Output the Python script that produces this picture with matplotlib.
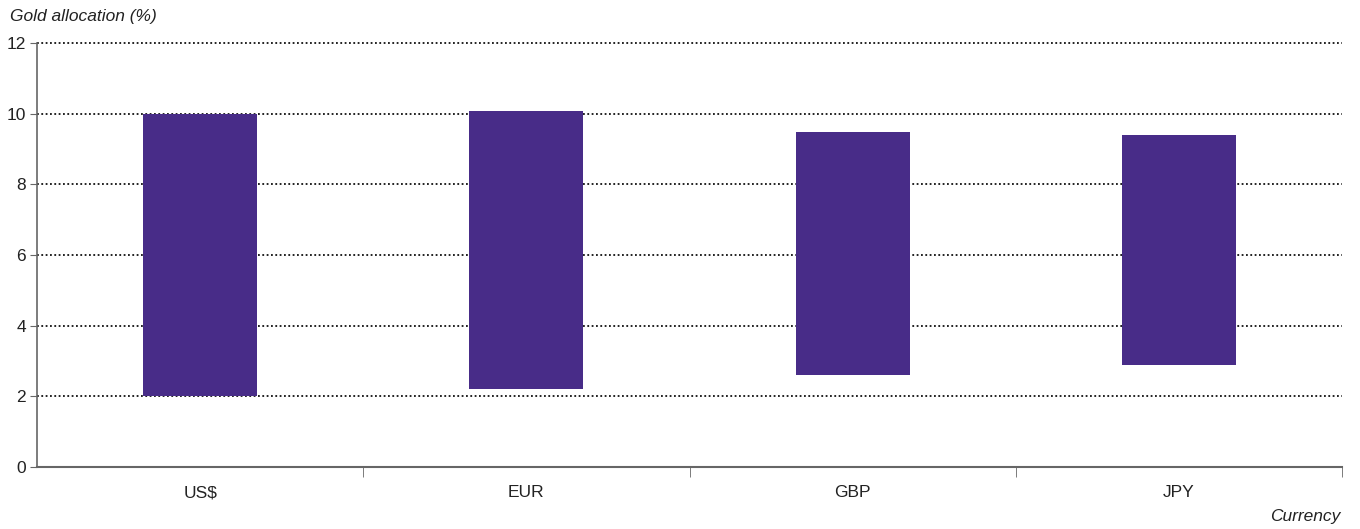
import matplotlib.pyplot as plt
import numpy as np

plt.rcParams["font.family"] = ["Liberation Sans", "DejaVu Sans"]

currencies = ["US$", "EUR", "GBP", "JPY"]
low = [2.0, 2.2, 2.6, 2.9]
high = [10.0, 10.07, 9.47, 9.4]

bar_color = "#482C88"
axis_color = "#666666"

fig = plt.figure(figsize=(13.6, 5.29), dpi=100)
ax = fig.add_axes([37 / 1360, 1 - 467 / 529, (1342 - 37) / 1360, (467 - 43) / 529])

x = np.arange(len(currencies))
heights = [h - l for h, l in zip(high, low)]
ax.bar(x, heights, bottom=low, width=0.35, color=bar_color, zorder=3)

ax.set_xlim(-0.5, len(currencies) - 0.5)
ax.set_ylim(0, 12)
ax.set_yticks(range(0, 13, 2))
ax.set_xticks(x)
ax.set_xticklabels(currencies)
ax.set_xticks(np.arange(0.5, len(currencies), 1), minor=True)
ax.tick_params(axis="x", which="major", length=0, pad=13, labelsize=12.5, colors="#222222")
ax.tick_params(axis="x", which="minor", length=7, direction="out", color=axis_color)
ax.tick_params(axis="y", length=5, direction="out", color=axis_color, labelsize=12.5,
               labelcolor="#222222", pad=3)

for s in ["top", "right"]:
    ax.spines[s].set_visible(False)
ax.spines["left"].set_color(axis_color)
ax.spines["bottom"].set_color(axis_color)
ax.spines["left"].set_linewidth(1.2)
ax.spines["bottom"].set_linewidth(1.5)

for yv in range(2, 13, 2):
    ax.axhline(yv, color="#111111", linestyle=(0, (1, 1.4)), linewidth=1.3, zorder=2,
               clip_on=False)

fig.text(10 / 1360, 1 - 17 / 529, "Gold allocation (%)", fontsize=12.5, style="italic",
         va="center", ha="left", color="#222222")
fig.text(1340 / 1360, 1 - 517 / 529, "Currency", fontsize=12.5, style="italic",
         va="center", ha="right", color="#222222")

fig.savefig("out.png", dpi=100)
